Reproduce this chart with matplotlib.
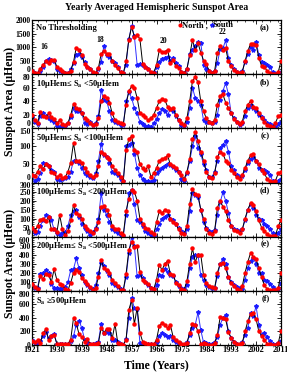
import matplotlib
matplotlib.use("Agg")
import matplotlib.pyplot as plt
import numpy as np
from matplotlib.ticker import MultipleLocator, AutoMinorLocator

plt.rcParams['font.family'] = ['Liberation Serif', 'DejaVu Serif']
plt.rcParams['font.weight'] = 'bold'
plt.rcParams['mathtext.fontset'] = 'stix'

years = np.arange(1921, 2012)

# panel (a): no thresholding
north_a = [130, 60, 40, 200, 350, 470, 420, 540, 520, 280,
           200, 120, 60, 30, 120, 450, 980, 900, 700, 380,
           260, 200, 90, 40, 230, 750, 870, 740, 760, 480,
           330, 210, 70, 30, 480, 1280, 1750, 1380, 1450, 1300,
           380, 270, 200, 80, 60, 340, 880, 820, 830, 900,
           430, 520, 300, 240, 80, 40, 200, 700, 1250, 900,
           1150, 800, 500, 380, 120, 40, 120, 780, 1050, 900,
           950, 480, 300, 160, 90, 30, 90, 480, 850, 1120,
           1100, 1080, 600, 300, 260, 120, 50, 10, 10, 80,
           480]
south_a = [100, 40, 20, 100, 250, 500, 560, 540, 480, 200,
           130, 80, 40, 30, 200, 400, 700, 760, 640, 450,
           280, 180, 60, 30, 200, 450, 1050, 700, 650, 500,
           420, 250, 80, 40, 350, 1300, 1780, 1400, 350, 370,
           350, 250, 200, 60, 80, 250, 450, 550, 580, 650,
           500, 600, 430, 300, 80, 60, 180, 750, 900, 1050,
           1200, 1150, 350, 200, 100, 50, 100, 400, 920, 950,
           1250, 600, 350, 180, 80, 60, 100, 450, 750, 1000,
           900, 1200, 700, 450, 400, 350, 250, 80, 20, 30,
           80]

# panel (b): 10 <= Sa < 50
north_b = [20, 12, 8, 24, 18, 16, 22, 17, 14, 8,
           12, 6, 5, 8, 20, 36, 30, 28, 22, 15,
           12, 8, 5, 6, 15, 40, 48, 45, 38, 22,
           12, 10, 8, 6, 35, 55, 62, 60, 45, 22,
           20, 16, 12, 15, 20, 30, 40, 43, 42, 32,
           28, 30, 20, 12, 8, 5, 15, 40, 70, 76,
           68, 40, 25, 15, 10, 8, 12, 35, 48, 50,
           38, 30, 22, 14, 10, 6, 10, 25, 35, 40,
           32, 30, 22, 15, 10, 5, 3, 2, 8, 18,
           20]
south_b = [16, 10, 6, 18, 22, 18, 15, 12, 10, 4,
           2, 3, 4, 8, 16, 30, 25, 26, 22, 8,
           7, 10, 5, 8, 18, 56, 42, 40, 25, 12,
           10, 8, 5, 5, 40, 53, 45, 30, 22, 10,
           6, 4, 3, 2, 8, 14, 22, 28, 25, 20,
           28, 25, 18, 12, 5, 3, 10, 30, 60, 45,
           40, 35, 12, 10, 10, 8, 10, 20, 42, 55,
           67, 50, 22, 15, 10, 5, 8, 18, 30, 35,
           30, 25, 20, 16, 12, 8, 6, 3, 2, 6,
           10]

# panel (c): 50 <= Sa < 100
north_c = [22, 18, 30, 45, 38, 50, 45, 30, 25, 15,
           20, 12, 15, 30, 55, 110, 60, 60, 55, 40,
           28, 20, 15, 20, 45, 85, 80, 70, 65, 45,
           35, 25, 15, 5, 90, 120, 128, 90, 85, 50,
           40, 35, 45, 15, 25, 40, 60, 65, 68, 75,
           50, 45, 40, 30, 20, 10, 30, 65, 120, 140,
           115, 85, 60, 30, 15, 12, 25, 70, 85, 80,
           60, 55, 35, 25, 15, 10, 20, 40, 60, 75,
           78, 60, 50, 35, 25, 10, 5, 2, 5, 25,
           30]
south_c = [20, 5, 10, 25, 55, 50, 45, 35, 30, 10,
           8, 10, 12, 15, 30, 60, 60, 55, 40, 25,
           20, 15, 12, 25, 60, 107, 75, 70, 55, 30,
           25, 20, 10, 5, 100, 105, 110, 80, 40, 20,
           10, 5, 3, 2, 8, 25, 35, 40, 45, 50,
           48, 42, 35, 30, 10, 5, 25, 60, 100, 128,
           95, 80, 50, 35, 15, 15, 30, 60, 95, 105,
           115, 85, 45, 35, 20, 15, 18, 35, 55, 65,
           70, 60, 40, 35, 35, 30, 20, 5, 3, 5,
           10]

# panel (d): 100 <= Sa < 200
north_d = [50, 30, 60, 95, 100, 85, 110, 40, 45, 25,
           120, 40, 10, 30, 90, 175, 130, 120, 100, 60,
           40, 30, 20, 40, 80, 165, 170, 150, 120, 60,
           45, 40, 20, 10, 140, 210, 260, 250, 200, 100,
           70, 50, 40, 25, 15, 80, 140, 130, 150, 140,
           100, 80, 70, 40, 20, 15, 60, 180, 265, 235,
           230, 150, 100, 40, 20, 15, 30, 160, 200, 165,
           140, 90, 60, 35, 30, 20, 40, 100, 150, 185,
           175, 140, 90, 50, 30, 15, 5, 2, 5, 60,
           90]
south_d = [40, 20, 25, 60, 90, 120, 110, 90, 40, 20,
           10, 20, 25, 60, 120, 140, 150, 110, 70, 50,
           30, 10, 25, 50, 100, 240, 150, 120, 80, 40,
           30, 20, 10, 5, 120, 240, 260, 180, 90, 80,
           60, 30, 20, 10, 5, 40, 70, 100, 110, 120,
           100, 90, 70, 50, 30, 20, 40, 140, 240, 230,
           220, 150, 80, 50, 30, 25, 35, 120, 190, 245,
           200, 130, 60, 40, 35, 30, 40, 90, 150, 180,
           160, 120, 100, 90, 70, 60, 40, 20, 10, 20,
           40]

# panel (e): 200 <= Sa < 500
north_e = [80, 40, 20, 160, 130, 190, 180, 100, 240, 120,
           80, 60, 20, 10, 90, 200, 230, 210, 140, 110,
           80, 40, 10, 30, 150, 340, 250, 230, 200, 120,
           90, 50, 10, 5, 190, 450, 540, 490, 500, 210,
           120, 100, 80, 30, 20, 120, 290, 230, 300, 330,
           190, 180, 90, 70, 20, 10, 110, 300, 470, 320,
           400, 400, 170, 90, 50, 40, 30, 200, 300, 310,
           250, 150, 90, 50, 20, 10, 50, 200, 320, 420,
           380, 350, 250, 150, 60, 20, 10, 5, 5, 30,
           200]
south_e = [70, 30, 30, 190, 200, 230, 200, 80, 30, 30,
           20, 30, 40, 100, 230, 240, 360, 250, 180, 100,
           60, 30, 20, 60, 200, 310, 280, 220, 180, 90,
           60, 40, 20, 10, 150, 420, 600, 500, 160, 170,
           140, 100, 60, 30, 20, 60, 180, 160, 240, 210,
           170, 160, 100, 50, 30, 20, 60, 250, 380, 400,
           400, 170, 120, 60, 40, 30, 30, 160, 300, 350,
           300, 150, 100, 70, 40, 30, 20, 120, 250, 330,
           360, 300, 200, 200, 120, 110, 80, 40, 10, 20,
           90]

# panel (f): Sa >= 500
north_f = [60, 40, 70, 30, 180, 230, 80, 130, 150, 20,
           10, 10, 10, 20, 80, 400, 320, 160, 120, 50,
           90, 20, 10, 10, 30, 250, 180, 240, 240, 100,
           310, 30, 10, 5, 80, 520, 660, 310, 550, 180,
           50, 30, 20, 10, 10, 80, 280, 330, 300, 250,
           300, 120, 80, 40, 20, 10, 30, 180, 310, 300,
           200, 20, 30, 10, 5, 5, 30, 150, 410, 400,
           380, 190, 100, 50, 20, 10, 30, 200, 350, 460,
           470, 380, 200, 140, 80, 20, 10, 5, 5, 30,
           200]
south_f = [80, 30, 20, 60, 130, 190, 100, 130, 160, 10,
           10, 20, 10, 10, 60, 130, 300, 360, 250, 80,
           30, 20, 10, 30, 50, 310, 180, 190, 170, 80,
           80, 40, 10, 5, 90, 400, 700, 540, 530, 30,
           30, 20, 15, 10, 5, 50, 130, 180, 150, 120,
           130, 80, 40, 20, 10, 5, 40, 150, 250, 300,
           480, 220, 40, 30, 10, 10, 40, 120, 300, 400,
           440, 200, 100, 50, 10, 10, 40, 150, 250, 470,
           430, 570, 300, 150, 180, 120, 60, 20, 5, 30,
           60]

labels = ['No Thresholding',
          '10\u03bcHem\u2264 S$_{\\rm a}$ <50\u03bcHem',
          '50\u03bcHem\u2264 S$_{\\rm a}$ <100\u03bcHem',
          '100\u03bcHem\u2264 S$_{\\rm a}$ <200\u03bcHem',
          '200\u03bcHem\u2264 S$_{\\rm a}$ <500\u03bcHem',
          'S$_{\\rm a}$ \u2265500\u03bcHem']
letters = ['(a)', '(b)', '(c)', '(d)', '(e)', '(f)']
ymax = [2000, 80, 150, 300, 600, 800]
ystep = [500, 20, 50, 50, 100, 200]
norths = [north_a, north_b, north_c, north_d, north_e, north_f]
souths = [south_a, south_b, south_c, south_d, south_e, south_f]
xticks = np.arange(1921, 2012, 9)

fig = plt.figure(figsize=(2.87, 3.84), dpi=100)
left, right = 32 / 287, 281 / 287
top, bottom = 1 - 20 / 384, 1 - 345 / 384
h = (top - bottom) / 6

for i in range(6):
    ax = fig.add_axes([left, top - (i + 1) * h, right - left, h])
    ax.plot(years, norths[i], color='black', lw=0.7, marker='o', ms=2.2,
            mfc='red', mec='red', zorder=3)
    ax.plot(years, souths[i], color='#3030ff', lw=0.7, marker='*', ms=3,
            mfc='#1a1aff', mec='#1a1aff', zorder=2)
    ax.set_xlim(1921, 2011)
    ax.set_ylim(0, ymax[i])
    ax.set_yticks(np.arange(0, ymax[i] + 1, ystep[i]))
    ax.yaxis.set_minor_locator(AutoMinorLocator(5))
    ax.set_xticks(xticks)
    ax.xaxis.set_minor_locator(MultipleLocator(3))
    ax.tick_params(which='both', direction='in', top=True, right=True,
                   labelsize=5.5, pad=1)
    ax.tick_params(which='major', length=3, width=0.6)
    ax.tick_params(which='minor', length=1.5, width=0.5)
    yt = ax.yaxis.get_major_ticks()
    if i > 0:
        yt[-1].label1.set_verticalalignment('top')
    if i < 5:
        yt[0].label1.set_verticalalignment('bottom')
    for s in ax.spines.values():
        s.set_linewidth(0.9)
    if i < 5:
        ax.tick_params(labelbottom=False)
    else:
        ax.tick_params(axis='x', labelsize=6)
    ax.text(0.015, 0.93, labels[i], transform=ax.transAxes, fontsize=6,
            fontweight='bold', va='top', ha='left')
    ax.text(0.955, 0.93, letters[i], transform=ax.transAxes, fontsize=6,
            fontweight='bold', va='top', ha='right')
    if i == 0:
        for yr, yv, txt in [(1925.5, 930, '16'), (1945.5, 1180, '18'),
                            (1968.5, 1160, '20'), (1989.8, 1480, '22')]:
            ax.text(yr, yv, txt, fontsize=5.5, fontweight='bold', ha='center')
        ax.plot([1974.6], [1800], 'o', color='red', ms=2)
        ax.text(1975.1, 1800, 'North ,', fontsize=6, fontweight='bold',
                va='center')
        ax.plot([1985.9], [1800], '*', color='#1a1aff', ms=3)
        ax.text(1986.4, 1800, 'South', fontsize=6, fontweight='bold',
                va='center')

fig.text((left + right) / 2, 1 - 8 / 384,
         'Yearly Averaged Hemispheric Sunspot Area', ha='center', va='center',
         fontsize=7, fontweight='bold')
fig.text(10 / 287, 1 - 101 / 384, 'Sunspot Area (\u03bcHem)', rotation=90,
         ha='center', va='center', fontsize=8.5, fontweight='bold')
fig.text(10 / 287, 1 - 263 / 384, 'Sunspot Area (\u03bcHem)', rotation=90,
         ha='center', va='center', fontsize=8.5, fontweight='bold')
fig.text((left + right) / 2, 1 - 365 / 384, 'Time (Years)', ha='center',
         va='center', fontsize=8.5, fontweight='bold')

fig.savefig('out.png', dpi=100)
